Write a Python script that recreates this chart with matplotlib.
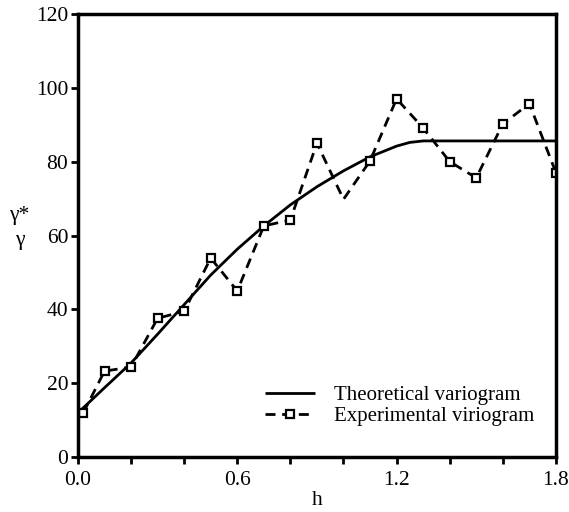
import matplotlib

matplotlib.use("Agg")
import matplotlib.pyplot as plt
from matplotlib.ticker import MultipleLocator

plt.rcParams["font.family"] = ["Liberation Serif", "DejaVu Serif"]

# experimental variogram
exp_h = [0.02, 0.1, 0.2, 0.3, 0.4, 0.5, 0.6, 0.7, 0.8, 0.9, 1.0, 1.1, 1.2, 1.3, 1.4, 1.5, 1.6, 1.7, 1.8]
exp_gamma = [12, 23.3, 24.4, 37.6, 39.5, 53.9, 45, 62.6, 64.2, 85, 69.8, 80.2, 97, 89.1, 80, 75.6, 90.2, 95.7, 77]
# points of the experimental curve that carry a marker (no marker at h=1.0)
marker_idx = [i for i in range(len(exp_h)) if i != 10]

# theoretical variogram
theo_h = [0.0, 0.1, 0.2, 0.3, 0.4, 0.5, 0.6, 0.7, 0.8, 0.9, 1.0, 1.1, 1.2, 1.25, 1.3, 1.8]
theo_gamma = [12, 18.8, 25.5, 33.3, 41.3, 49.3, 56.3, 62.6, 68.3, 73.2, 77.5, 81.3, 84.2, 85.2, 85.6, 85.6]

x_ticks = [0.0, 0.6, 1.2, 1.8]
x_tick_labels = ["0.0", "0.6", "1.2", "1.8"]
y_ticks = [0, 20, 40, 60, 80, 100, 120]

FS = 15.5

fig = plt.figure(figsize=(5.69, 5.12), dpi=100)
ax = fig.add_axes([0.137, 0.107, 0.840, 0.866])

ax.plot(theo_h, theo_gamma, color="black", linewidth=2.0, solid_capstyle="butt",
        label="Theoretical variogram")
ax.plot(exp_h, exp_gamma, color="black", linewidth=2.0, linestyle=(0, (3.6, 2.4)),
        marker="s", markersize=5.5, markerfacecolor="white", markeredgecolor="black",
        markeredgewidth=1.6, markevery=marker_idx, label="Experimental viriogram")

ax.set_xlim(0, 1.8)
ax.set_ylim(0, 120)
ax.set_xticks(x_ticks)
ax.set_xticklabels(x_tick_labels)
ax.xaxis.set_minor_locator(MultipleLocator(0.2))
ax.set_yticks(y_ticks)
ax.tick_params(which="both", direction="out", length=5, width=2, labelsize=FS)
ax.tick_params(axis="x", pad=5)
ax.tick_params(axis="y", pad=2)

for spine in ax.spines.values():
    spine.set_linewidth(2.5)

ax.set_xlabel("h", fontsize=FS, labelpad=1)
ax.set_ylabel("γ*\nγ", fontsize=FS, rotation=0, ha="center", va="center", linespacing=1.45)
ax.yaxis.set_label_coords(-0.122, 0.517)

leg = ax.legend(loc="lower right", frameon=False, fontsize=FS - 0.5, handlelength=2.4,
                handletextpad=0.9, labelspacing=0.05, borderaxespad=0.0,
                bbox_to_anchor=(0.972, 0.052))

fig.savefig("out.png", dpi=100)
